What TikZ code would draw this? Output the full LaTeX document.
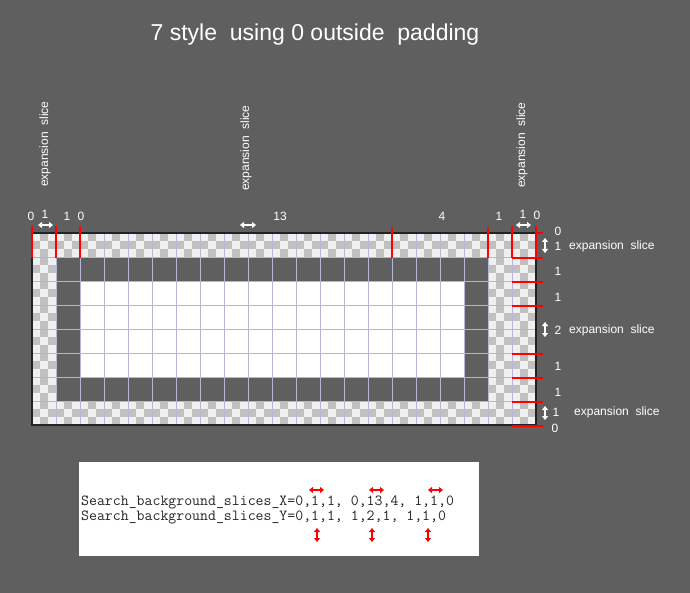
\documentclass[tikz,border=0pt]{standalone}
\usepackage{fontspec}
\setmainfont{Liberation Sans}
\usetikzlibrary{arrows.meta}
\definecolor{bggray}{RGB}{95,95,95}
\definecolor{chklight}{RGB}{240,240,240}
\definecolor{chkdark}{RGB}{192,192,192}
\definecolor{gridlav}{RGB}{184,180,216}
\definecolor{framedark}{RGB}{34,34,34}
\newcommand{\chkcell}[2]{%
  \fill[chklight] ({32+24*#1},{233+24*#2}) rectangle ++(24,24);
  \foreach \a/\b in {1/0,0/1,2/1,1/2}
    \fill[chkdark] ({32+24*#1+8*\a},{233+24*#2+8*\b}) rectangle ++(8,8);}
\begin{document}
\begin{tikzpicture}[x=1pt,y=-1pt,
  lbl/.style={text=white,inner sep=0pt,font=\fontsize{12}{14}\selectfont},
  codeline/.style={anchor=west,inner sep=0pt,text=black!85,font=\ttfamily\fontsize{15.4}{17}\selectfont},
  cut/.style={red,line width=1.4pt},
  wdbl/.style={white,line width=1.2pt,{Triangle[length=4pt,width=6pt]}-{Triangle[length=4pt,width=6pt]}},
  rdbl/.style={red,line width=1.2pt,{Triangle[length=4pt,width=6pt]}-{Triangle[length=4pt,width=6pt]}}]
  \useasboundingbox (0,0) rectangle (690,593);
  \fill[bggray] (0,0) rectangle (690,593);
  \node[text=white,font=\fontsize{23}{27}\selectfont] (title) at (315,35) {7 style\ \ using 0 outside\ \ padding};
  % texture
  \fill[white] (80,281) rectangle (464,377);
  \foreach \i in {0,...,20} \foreach \j in {0,7} {\chkcell{\i}{\j}}
  \foreach \i in {0,19,20} \foreach \j in {1,...,6} {\chkcell{\i}{\j}}
  \foreach \i in {0,...,21} \draw[gridlav] ({32+24*\i},233) -- ++(0,192);
  \foreach \j in {0,...,8} \draw[gridlav] (32,{233+24*\j}) -- ++(504,0);
  \draw[framedark,line width=1.2pt] (32,233) rectangle (536,425);
  % slice cuts
  \foreach \x in {32,56,80,512,536} \draw[cut] (\x,226) -- (\x,258);
  \foreach \x in {392,488} \draw[cut] (\x,228) -- (\x,258);
  \draw[cut] (536,233) -- (543,233);
  \foreach \y in {258,282,306,354,378,402,426} \draw[cut] (512,\y) -- (543,\y);
  % labels
  \node[lbl,rotate=90] (vs1) at (45,144) {expansion\ \ slice};
  \node[lbl,rotate=90] (vs2) at (246,148) {expansion\ \ slice};
  \node[lbl,rotate=90] (vs3) at (522,145) {expansion\ \ slice};
  \node[lbl] (x0) at (31,216) {0};
  \node[lbl] (x1) at (45,214) {1};
  \node[lbl] (x2) at (67,216) {1};
  \node[lbl] (x3) at (81,216) {0};
  \node[lbl] (x4) at (280,216) {13};
  \node[lbl] (x5) at (442,216) {4};
  \node[lbl] (x6) at (499,216) {1};
  \node[lbl] (x7) at (523,214) {1};
  \node[lbl] (x8) at (537,215) {0};
  \draw[wdbl] (38,225) -- (53,225);
  \draw[wdbl] (240,225) -- (256,225);
  \draw[wdbl] (516,225) -- (531,225);
  \node[lbl] (y0) at (558,231) {0};
  \node[lbl] (y1) at (558,246) {1};
  \node[lbl] (y2) at (558,271) {1};
  \node[lbl] (y3) at (558,297) {1};
  \node[lbl] (y4) at (558,330) {2};
  \node[lbl] (y5) at (558,366) {1};
  \node[lbl] (y6) at (558,392) {1};
  \node[lbl] (y7) at (556,412) {1};
  \node[lbl] (y8) at (555,428) {0};
  \node[lbl,anchor=west] (ex1) at (569,246) {expansion\ \ slice};
  \node[lbl,anchor=west] (ex2) at (569,330) {expansion\ \ slice};
  \node[lbl,anchor=west] (ex3) at (574,412) {expansion\ \ slice};
  \draw[wdbl] (545,238) -- (545,253);
  \draw[wdbl] (545,322) -- (545,337);
  \draw[wdbl] (545,406) -- (545,420);
  % settings box
  \fill[white] (79,462) rectangle (479,556);
  \node[codeline] (setx) at (81,502) {Search\_background\_slices\_X=0,1,1, 0,13,4, 1,1,0};
  \node[codeline] (sety) at (81,517) {Search\_background\_slices\_Y=0,1,1, 1,2,1, 1,1,0};
  \draw[rdbl] (309,490) -- (324,490);
  \draw[rdbl] (369,490) -- (384,490);
  \draw[rdbl] (428,490) -- (443,490);
  \draw[rdbl] (317,528) -- (317,542);
  \draw[rdbl] (372,528) -- (372,542);
  \draw[rdbl] (428,528) -- (428,542);
\end{tikzpicture}
\end{document}
